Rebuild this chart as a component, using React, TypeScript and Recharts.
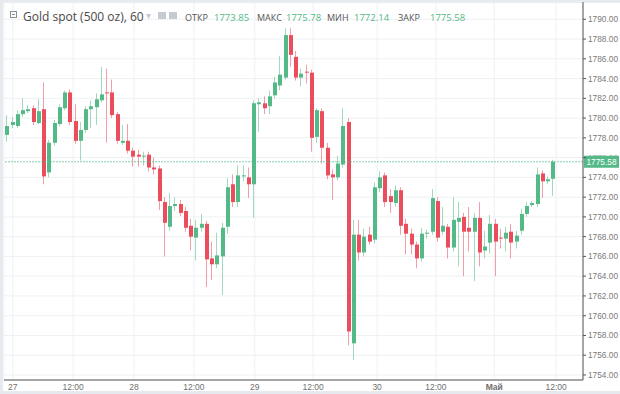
import React from 'react';
import { ComposedChart, Bar, XAxis, YAxis, CartesianGrid, ReferenceLine } from 'recharts';

// Hourly OHLC values
const opens = [
  1778.3, 1779.3, 1779.2, 1780.4, 1780.7, 1781.0, 1779.5, 1780.9, 1774.5, 1777.5,
  1779.4, 1781.0, 1782.6, 1779.7, 1777.7, 1778.8, 1780.9, 1781.1, 1781.8, 1782.6,
  1782.6, 1780.4, 1777.5, 1777.7, 1776.7, 1776.3, 1776.1, 1776.3, 1775.0, 1774.9,
  1771.5, 1769.0, 1771.1, 1771.3, 1770.6, 1769.1, 1767.9, 1768.9, 1769.3, 1765.8,
  1765.2, 1766.0, 1769.0, 1773.3, 1771.5, 1774.1, 1774.0, 1773.3, 1781.4, 1781.5,
  1781.2, 1782.3, 1783.3, 1784.1, 1788.4, 1786.2, 1784.1, 1784.7, 1784.6, 1778.1,
  1780.7, 1777.0, 1774.3, 1774.0, 1775.3, 1779.6, 1757.2, 1768.2, 1766.4, 1768.2,
  1767.7, 1772.9, 1774.2, 1772.1, 1771.4, 1772.7, 1769.3, 1768.3, 1767.2, 1765.8,
  1768.3, 1768.5, 1771.6, 1768.5, 1769.0, 1766.9, 1769.5, 1770.0, 1768.9, 1768.5,
  1769.9, 1766.6, 1767.4, 1769.3, 1767.9, 1767.8, 1768.5, 1767.5, 1768.6, 1770.3,
  1771.2, 1771.3, 1774.4, 1773.6, 1773.85,
];
const highs = [
  1780.3, 1780.1, 1780.8, 1782.0, 1781.3, 1781.3, 1781.9, 1783.6, 1777.8, 1779.8,
  1781.4, 1782.8, 1782.9, 1781.4, 1779.6, 1781.2, 1781.8, 1782.5, 1785.2, 1785.0,
  1783.9, 1780.6, 1779.3, 1779.4, 1777.0, 1776.8, 1776.6, 1776.6, 1776.0, 1775.2,
  1772.0, 1772.4, 1772.0, 1771.7, 1771.0, 1769.8, 1769.7, 1770.3, 1769.6, 1767.5,
  1768.4, 1769.4, 1773.9, 1774.3, 1775.2, 1775.2, 1775.0, 1781.8, 1782.0, 1782.2,
  1782.8, 1784.2, 1786.3, 1789.1, 1789.1, 1786.8, 1785.0, 1785.4, 1784.9, 1781.0,
  1781.0, 1777.5, 1774.8, 1776.2, 1781.0, 1780.0, 1769.7, 1769.7, 1768.8, 1769.0,
  1773.5, 1774.6, 1774.5, 1772.8, 1773.2, 1773.0, 1769.8, 1768.8, 1767.5, 1768.9,
  1768.7, 1772.8, 1772.0, 1771.0, 1769.3, 1772.0, 1771.5, 1770.4, 1771.0, 1770.4,
  1771.5, 1768.6, 1770.2, 1769.8, 1768.8, 1769.0, 1769.3, 1768.6, 1770.8, 1771.5,
  1771.6, 1775.0, 1774.7, 1774.1, 1775.78,
];
const lows = [
  1777.6, 1779.0, 1779.0, 1780.1, 1780.5, 1779.3, 1779.4, 1773.3, 1774.0, 1777.2,
  1779.2, 1780.8, 1779.3, 1777.4, 1775.7, 1778.5, 1779.0, 1779.3, 1781.6, 1777.5,
  1780.0, 1777.4, 1777.3, 1776.4, 1775.1, 1775.1, 1775.2, 1774.6, 1774.3, 1770.7,
  1766.0, 1768.6, 1770.6, 1770.1, 1768.5, 1766.6, 1765.6, 1768.5, 1762.9, 1763.6,
  1764.8, 1762.1, 1768.3, 1771.0, 1771.0, 1773.6, 1771.9, 1769.9, 1778.6, 1780.4,
  1780.4, 1782.0, 1782.8, 1783.9, 1785.2, 1783.8, 1783.2, 1783.5, 1776.6, 1777.5,
  1775.4, 1773.8, 1771.7, 1773.7, 1775.0, 1757.0, 1755.5, 1765.6, 1766.0, 1767.2,
  1767.3, 1772.5, 1771.0, 1770.4, 1771.0, 1768.2, 1766.2, 1766.2, 1764.8, 1765.5,
  1767.8, 1768.2, 1767.5, 1768.2, 1765.8, 1766.5, 1765.0, 1764.0, 1766.5, 1763.5,
  1765.0, 1765.8, 1766.3, 1764.0, 1766.8, 1766.5, 1765.8, 1766.8, 1768.2, 1770.0,
  1771.0, 1771.0, 1771.9, 1773.3, 1772.14,
];
const closes = [
  1779.2, 1779.6, 1780.4, 1780.8, 1780.9, 1779.6, 1780.7, 1774.1, 1777.5, 1779.5,
  1781.1, 1782.6, 1779.6, 1777.7, 1778.8, 1780.9, 1781.2, 1781.9, 1782.4, 1782.5,
  1780.3, 1777.7, 1777.7, 1776.7, 1776.1, 1776.1, 1776.2, 1775.0, 1774.8, 1771.6,
  1769.4, 1771.1, 1771.3, 1770.4, 1768.9, 1768.0, 1768.9, 1769.3, 1765.7, 1765.2,
  1766.1, 1768.9, 1773.0, 1771.5, 1774.2, 1774.2, 1773.3, 1781.5, 1781.6, 1781.0,
  1782.2, 1783.6, 1784.4, 1788.4, 1786.4, 1784.1, 1784.5, 1784.6, 1778.0, 1780.8,
  1777.0, 1774.2, 1774.0, 1775.4, 1779.2, 1758.4, 1768.2, 1766.4, 1768.0, 1767.5,
  1773.0, 1774.0, 1771.5, 1771.5, 1772.7, 1769.1, 1768.3, 1767.2, 1765.8, 1768.3,
  1768.4, 1771.9, 1767.9, 1769.1, 1766.9, 1769.7, 1769.9, 1768.5, 1768.5, 1769.9,
  1766.4, 1767.0, 1769.3, 1767.5, 1767.8, 1768.4, 1767.4, 1768.1, 1770.3, 1771.1,
  1771.4, 1774.3, 1773.6, 1773.8, 1775.58,
];

// X axis: tick positions in bar-index units and their labels
const xTickPos = [2.1, 13.6, 25.2, 36.6, 48.2, 59.3, 71.5, 82.7, 93.8, 105.6];
const xTickLabels = ['27', '12:00', '28', '12:00', '29', '12:00', '30', '12:00', 'Май', '12:00'];
const yTicks = [1754, 1756, 1758, 1760, 1762, 1764, 1766, 1768, 1770, 1772, 1774, 1776, 1778, 1780, 1782, 1784, 1786, 1788, 1790];
const lastPrice = 1775.58;

const titleText = 'Gold spot (500 oz), 60';
const statLabels = ['ОТКР', 'МАКС', 'МИН', 'ЗАКР'];
const statValues = ['1773.85', '1775.78', '1772.14', '1775.58'];

const UP = '#53b987';
const DOWN = '#eb4d5c';

const data = opens.map((o, k) => ({
  idx: k + 1,
  o,
  h: highs[k],
  l: lows[k],
  c: closes[k],
  range: [lows[k], highs[k]],
}));

const Candle = (props: any) => {
  const { x, y, width, height, payload } = props;
  if (!payload) return null;
  const { o, h, l, c } = payload;
  const top = Math.min(y, y + height);
  const hgt = Math.abs(height);
  const span = h - l || 1;
  const toY = (p: number) => top + ((h - p) / span) * hgt;
  const up = c >= o;
  const color = up ? UP : DOWN;
  const c0 = Math.round(x + width / 2);
  const bTop = toY(Math.max(o, c));
  const bBot = toY(Math.min(o, c));
  return (
    <g>
      <line x1={c0 - 0.5} x2={c0 - 0.5} y1={top} y2={top + hgt} stroke={color} strokeOpacity={0.55} strokeWidth={1} />
      <rect x={c0 - 2} y={bTop} width={4} height={Math.max(1, bBot - bTop)} fill={color} />
    </g>
  );
};

const XTick = (props: any) => {
  const { x, y, payload } = props;
  const i = xTickPos.indexOf(payload.value);
  const label = i >= 0 ? xTickLabels[i] : '';
  return (
    <text x={x} y={y} dy={10} textAnchor="middle" fontSize={8.5} fill="#6f6f6f"
      fontFamily="'Liberation Sans', Arial, sans-serif" fontWeight={label === 'Май' ? 700 : 400}>
      {label}
    </text>
  );
};

const YTick = (props: any) => {
  const { x, y, payload } = props;
  const near = Math.abs(payload.value - lastPrice) < 1;
  const id = 'clip-ytick-' + payload.value;
  return (
    <g>
      {near && (
        <defs>
          <clipPath id={id}>
            <rect x={x - 2} y={y - 12} width={40} height={10} />
          </clipPath>
        </defs>
      )}
      <text x={x} y={y} dy={3} textAnchor="start" fontSize={8.3} fill="#7a7a7a"
        fontFamily="'Liberation Sans', Arial, sans-serif" clipPath={near ? `url(#${id})` : undefined}>
        {payload.value.toFixed(2)}
      </text>
    </g>
  );
};

const PriceLabel = (props: any) => {
  const vb = props.viewBox || {};
  const x = (vb.x || 0) + (vb.width || 0) + 1;
  const y = vb.y || 0;
  return (
    <g>
      <rect x={x} y={y - 6} width={35} height={12} fill={UP} />
      <text x={x + 17.5} y={y + 3} textAnchor="middle" fontSize={8.3} fill="#ffffff"
        fontFamily="'Liberation Sans', Arial, sans-serif">{lastPrice.toFixed(2)}</text>
    </g>
  );
};

export default function App() {
  return (
    <div style={{ position: 'fixed', left: 0, top: 0, width: 620, height: 394, background: '#ffffff', overflow: 'hidden', fontFamily: "'Open Sans', sans-serif" }}>
      <div style={{ position: 'absolute', left: 0, top: 0, width: 620, height: 3, background: '#e6e9ee' }} />
      <div style={{ position: 'absolute', left: 0, top: 0, width: 3, height: 394, background: '#e6e9ee' }} />
      <div style={{ position: 'absolute', left: 0, top: 0 }}>
        <ComposedChart width={620} height={394} data={data} margin={{ top: 2, right: 0, bottom: 0, left: 4 }}>
          <CartesianGrid stroke="#edf0f3" vertical horizontal />
          <XAxis
            dataKey="idx"
            type="number"
            domain={[0.43, 110.71]}
            ticks={xTickPos}
            interval={0}
            allowDataOverflow
            height={14}
            tickSize={0}
            tickMargin={0}
            axisLine={{ stroke: '#555555' }}
            tickLine={false}
            tick={<XTick />}
          />
          <YAxis
            orientation="right"
            type="number"
            domain={[1753.49, 1791.75]}
            ticks={yTicks}
            interval={0}
            allowDataOverflow
            width={37}
            tickSize={3}
            tickMargin={2}
            axisLine={{ stroke: '#555555' }}
            tickLine={{ stroke: '#555555' }}
            tick={<YTick />}
          />
          <Bar dataKey="range" barSize={4} shape={<Candle />} isAnimationActive={false} />
          <ReferenceLine y={lastPrice} stroke={UP} strokeOpacity={0.7} strokeDasharray="2 1" label={<PriceLabel />} />
        </ComposedChart>
      </div>
      <div style={{ position: 'absolute', left: 0, top: 391, width: 620, height: 3, background: '#e6e9ee' }} />
      <div style={{ position: 'absolute', left: 10, top: 11, width: 7, height: 7, border: '1px solid #8a8f99', boxSizing: 'border-box' }}>
        <div style={{ position: 'absolute', left: 1, top: 2, width: 3, height: 1, background: '#8a8f99' }} />
      </div>
      <div style={{ position: 'absolute', left: 23, top: 8, fontSize: 12, color: '#4a4a4a', whiteSpace: 'nowrap' }}>{titleText}</div>
      <div style={{ position: 'absolute', left: 146, top: 8, fontSize: 10, color: '#c4c8cf' }}>▾</div>
      <div style={{ position: 'absolute', left: 158, top: 12, width: 8, height: 7, background: '#c6cad2' }} />
      <div style={{ position: 'absolute', left: 169, top: 12, width: 8, height: 7, background: '#c6cad2' }} />
      {statLabels.map((s, i) => (
        <React.Fragment key={s}>
          <div style={{ position: 'absolute', left: [185, 257, 327, 398][i], top: 11, fontSize: 9, color: '#555555', whiteSpace: 'nowrap' }}>{s}</div>
          <div style={{ position: 'absolute', left: [214, 286, 354, 430][i], top: 11, fontSize: 9.5, color: UP, whiteSpace: 'nowrap' }}>{statValues[i]}</div>
        </React.Fragment>
      ))}
    </div>
  );
}
